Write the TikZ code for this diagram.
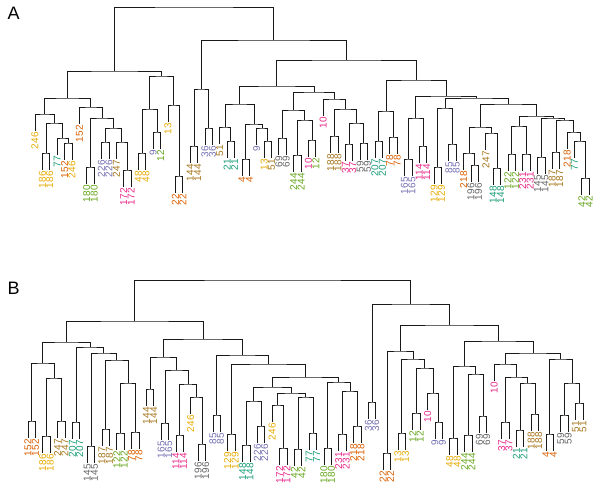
\documentclass[tikz,border=0pt]{standalone}
\usepackage{fontspec}
\setmainfont{Liberation Sans}
\usepackage{xcolor}
\usepackage{tikz}
\usetikzlibrary{calc}

% Dark2 palette for the sample labels
\definecolor{tl}{HTML}{1B9E77}
\definecolor{or}{HTML}{D95F02}
\definecolor{pu}{HTML}{7570B3}
\definecolor{pk}{HTML}{E7298A}
\definecolor{gn}{HTML}{66A61E}
\definecolor{yl}{HTML}{E6AB02}
\definecolor{br}{HTML}{A6761D}
\definecolor{gy}{HTML}{666666}

\begin{document}
\begin{tikzpicture}[x=1pt, y=-1pt,
  branch/.style={draw=black!90, line width=0.75pt},
  lab/.style={rotate=90, anchor=east, inner sep=1.2pt, font=\fontsize{10}{10}\selectfont},
  panel/.style={anchor=base west, font=\fontsize{18}{18}\selectfont}]

\useasboundingbox (0,0) rectangle (600,494);

\node[panel] (titleA) at (4,20) {A};
\node[panel] (titleB) at (4,295) {B};

% panel A: leaves (index/parent height/label/colour)
\foreach \ii/\hh/\lbl/\col in {
  0/114/246/yl, 1/153/186/yl, 2/153/186/yl, 3/138/77/tl, 4/143/152/or, 5/143/246/yl,
  6/107/152/or, 7/167/180/gn, 8/167/180/gn, 9/142/226/pu, 10/142/226/pu, 11/142/247/br,
  12/170/172/pk, 13/170/172/pk, 14/153/48/yl, 15/153/48/yl, 16/132/9/pu, 17/132/12/gn,
  18/105/13/yl, 19/176/22/or, 20/176/22/or, 21/146/144/br, 22/146/144/br, 23/128/36/pu,
  24/128/36/pu, 25/127/51/br, 26/141/21/tl, 27/141/21/tl, 28/159/4/or, 29/159/4/or,
  30/128/9/pu, 31/141/13/yl, 32/141/51/br, 33/138/69/gy, 34/138/69/gy, 35/155/244/gn,
  36/155/244/gn, 37/140/10/pk, 38/140/12/gn, 39/99/10/pk, 40/136/188/br, 41/136/188/br,
  42/144/37/pk, 43/144/37/pk, 44/143/59/gy, 45/143/59/gy, 46/141/207/tl, 47/141/207/tl,
  48/137/78/or, 49/137/78/or, 50/159/165/pu, 51/159/165/pu, 52/146/114/pk, 53/146/114/pk,
  54/167/129/yl, 55/167/129/yl, 56/144/85/pu, 57/144/85/pu, 58/153/218/or, 59/165/196/gy,
  60/165/196/gy, 61/133/247/br, 62/168/148/tl, 63/168/148/tl, 64/154/122/gn, 65/154/122/gn,
  66/154/231/pk, 67/154/231/pk, 68/157/145/gy, 69/157/145/gy, 70/152/187/br, 71/152/187/br,
  72/132/218/or, 73/141/77/tl, 74/178/42/gn, 75/178/42/gn}
  \node[lab, text=\col] (a\ii) at ({35+7.39*\ii},{\hh+17}) {\lbl};

% panel A: merges (name/left/right/height)
\foreach \nd/\lc/\rc/\hh in {
  p1/a1/a2/153, p2/a4/a5/143, p3/a3/p2/138, p4/p1/p3/123, p5/a0/p4/114,
  p6/a7/a8/167, p7/a9/a10/142, p8/a12/a13/170, p9/a11/p8/142, p10/p7/p9/128,
  p11/p6/p10/118, p12/a6/p11/107, p13/p5/p12/98,
  p14/a14/a15/153, p15/a16/a17/132, p16/p14/p15/109, p17/a19/a20/176, p18/a18/p17/105,
  p19/p16/p18/76, p20/p13/p19/71,
  p21/a21/a22/146, p22/a23/a24/128, p23/p21/p22/89,
  p24/a26/a27/141, p25/a25/p24/127, p26/a28/a29/159, p27/a31/a32/141, p28/a30/p27/128,
  p29/p26/p28/124, p30/p25/p29/104,
  p31/a33/a34/138, p32/a35/a36/155, p33/a37/a38/140, p34/p32/p33/120, p35/p31/p34/110,
  p36/a40/a41/136, p37/a42/a43/144, p38/a44/a45/143, p39/p37/p38/123, p40/p36/p39/109,
  p41/a39/p40/99, p42/p35/p41/92, p43/p30/p42/86,
  p44/a46/a47/141, p45/a48/a49/137, p46/p44/p45/111,
  p47/a50/a51/159, p48/a52/a53/146, p49/p47/p48/118,
  p50/a54/a55/167, p51/a56/a57/144, p52/p50/p51/108,
  p53/a59/a60/165, p54/a58/p53/153, p55/a62/a63/168, p56/a61/p55/133, p57/p54/p56/127,
  p58/a64/a65/154, p59/a66/a67/154, p60/p58/p59/126,
  p61/a68/a69/157, p62/a70/a71/152, p63/a74/a75/178, p64/a73/p63/141, p65/a72/p64/132,
  p66/p62/p65/120, p67/p61/p66/118, p68/p60/p67/116,
  p69/p57/p68/104, p70/p52/p69/98, p71/p49/p70/96, p72/p46/p71/80, p73/p43/p72/60,
  p74/p23/p73/40, p75/p20/p74/7}{
  \path let \p1=(\lc), \p2=(\rc), \n1={(\x1+\x2)/2} in coordinate (\nd) at (\n1,\hh);
  \draw[branch] (\lc) |- (\nd) -| (\rc);
}

% panel B: leaves
\foreach \ii/\hh/\lbl/\col in {
  0/421/152/or, 1/421/152/or, 2/436/186/yl, 3/436/186/yl, 4/421/247/br, 5/421/247/br,
  6/422/207/tl, 7/422/207/tl, 8/446/145/gy, 9/446/145/gy, 10/429/187/br, 11/429/187/br,
  12/433/122/gn, 13/433/122/gn, 14/432/78/or, 15/432/78/or, 16/389/144/br, 17/389/144/br,
  18/423/165/pu, 19/423/165/pu, 20/435/114/pk, 21/435/114/pk, 22/397/246/yl, 23/444/196/gy,
  24/444/196/gy, 25/415/85/pu, 26/415/85/pu, 27/434/129/yl, 28/434/129/yl, 29/445/148/tl,
  30/445/148/tl, 31/426/226/pu, 32/426/226/pu, 33/405/246/yl, 34/448/172/pk, 35/448/172/pk,
  36/449/42/gn, 37/449/42/gn, 38/433/77/tl, 39/433/77/tl, 40/448/180/gn, 41/448/180/gn,
  42/434/231/pk, 43/434/231/pk, 44/426/218/or, 45/426/218/or, 46/402/36/pu, 47/402/36/pu,
  48/453/22/or, 49/453/22/or, 50/433/13/yl, 51/433/13/yl, 52/413/12/gn, 53/413/12/gn,
  54/393/10/pk, 55/422/9/pu, 56/422/9/pu, 57/438/48/yl, 58/438/48/yl, 59/435/244/gn,
  60/435/244/gn, 61/416/69/gy, 62/416/69/gy, 63/364/10/pk, 64/422/37/pk, 65/422/37/pk,
  66/430/21/tl, 67/430/21/tl, 68/414/188/br, 69/414/188/br, 70/434/4/or, 71/434/4/or,
  72/415/59/gy, 73/415/59/gy, 74/403/51/br, 75/403/51/br}
  \node[lab, text=\col] (b\ii) at ({28+7.4*\ii},{\hh+17}) {\lbl};

% panel B: merges
\foreach \nd/\lc/\rc/\hh in {
  q1/b0/b1/421, q2/b2/b3/436, q3/b4/b5/421, q4/q2/q3/378, q5/q1/q4/363,
  q6/b6/b7/422, q7/b8/b9/446, q8/b10/b11/429, q9/b12/b13/433, q10/b14/b15/432,
  q11/q9/q10/383, q12/q8/q11/360, q13/q7/q12/353, q14/q6/q13/347, q15/q5/q14/342,
  q16/b16/b17/389, q17/b18/b19/423, q18/b20/b21/435, q19/b23/b24/444, q20/b22/q19/397,
  q21/q18/q20/384, q22/q17/q21/370, q23/q16/q22/357,
  q24/b25/b26/415, q25/b27/b28/434, q26/b29/b30/445, q27/b31/b32/426, q28/q26/q27/401,
  q29/b34/b35/448, q30/b33/q29/405, q31/b36/b37/449, q32/b38/b39/433, q33/q31/q32/397,
  q34/q30/q33/393, q35/q28/q34/387,
  q36/b40/b41/448, q37/b42/b43/434, q38/b44/b45/426, q39/q37/q38/391, q40/q36/q39/382,
  q41/q35/q40/377, q42/q25/q41/364, q43/q24/q42/355, q44/q23/q43/339, q45/q15/q44/321,
  q46/b46/b47/402, q47/b48/b49/453, q48/b50/b51/433, q49/b52/b53/413, q50/b55/b56/422,
  q51/b54/q50/393, q52/q49/q51/368, q53/q48/q52/359, q54/q47/q53/351,
  q55/b57/b58/438, q56/b59/b60/435, q57/b61/b62/416, q58/q56/q57/374, q59/q55/q58/366,
  q60/b64/b65/422, q61/b66/b67/430, q62/b68/b69/414, q63/q61/q62/383, q64/q60/q63/377,
  q65/b63/q64/364,
  q66/b70/b71/434, q67/b72/b73/415, q68/b74/b75/403, q69/q67/q68/383, q70/q66/q69/359,
  q71/q65/q70/353, q72/q59/q71/341, q73/q54/q72/325, q74/q46/q73/304, q75/q45/q74/280}{
  \path let \p1=(\lc), \p2=(\rc), \n1={(\x1+\x2)/2} in coordinate (\nd) at (\n1,\hh);
  \draw[branch] (\lc) |- (\nd) -| (\rc);
}

\end{tikzpicture}
\end{document}
